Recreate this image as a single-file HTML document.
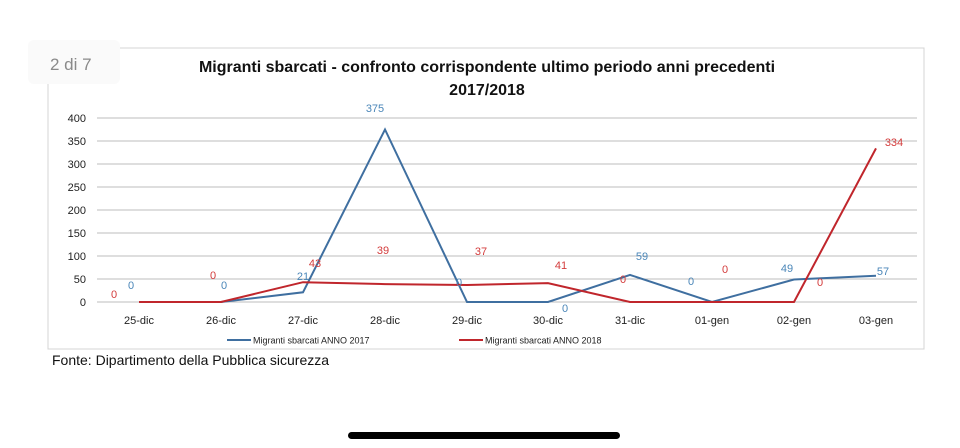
<!DOCTYPE html>
<html><head><meta charset="utf-8"><style>
html,body{margin:0;padding:0;background:#fff;width:960px;height:448px;overflow:hidden}
svg{display:block;font-family:"Liberation Sans",sans-serif}
</style></head><body>
<svg width="960" height="448" viewBox="0 0 960 448">
<rect x="48" y="48" width="876" height="301" fill="#fff" stroke="#d4d4d4" stroke-width="1"/>
<rect x="28" y="40" width="92" height="44" rx="6" fill="#fafafa"/>
<text x="50" y="70" font-size="17" fill="#8a8a8a">2 di 7</text>
<text x="487" y="72" font-size="16" font-weight="bold" text-anchor="middle" fill="#111">Migranti sbarcati - confronto corrispondente ultimo periodo anni precedenti</text>
<text x="487" y="95" font-size="16" font-weight="bold" text-anchor="middle" fill="#111">2017/2018</text>
<g stroke="#bdbdbd" stroke-width="1">
<line x1="97" x2="917" y1="302" y2="302"/><line x1="97" x2="917" y1="279" y2="279"/>
<line x1="97" x2="917" y1="256" y2="256"/><line x1="97" x2="917" y1="233" y2="233"/>
<line x1="97" x2="917" y1="210" y2="210"/><line x1="97" x2="917" y1="187" y2="187"/>
<line x1="97" x2="917" y1="164" y2="164"/><line x1="97" x2="917" y1="141" y2="141"/>
<line x1="97" x2="917" y1="118" y2="118"/>
</g>
<g font-size="11" fill="#222" text-anchor="end">
<text x="86" y="306">0</text><text x="86" y="283">50</text><text x="86" y="260">100</text>
<text x="86" y="237">150</text><text x="86" y="214">200</text><text x="86" y="191">250</text>
<text x="86" y="168">300</text><text x="86" y="145">350</text><text x="86" y="122">400</text>
</g>
<g font-size="11" fill="#222" text-anchor="middle">
<text x="139" y="324">25-dic</text><text x="221" y="324">26-dic</text><text x="303" y="324">27-dic</text>
<text x="385" y="324">28-dic</text><text x="467" y="324">29-dic</text><text x="548" y="324">30-dic</text>
<text x="630" y="324">31-dic</text><text x="712" y="324">01-gen</text><text x="794" y="324">02-gen</text>
<text x="876" y="324">03-gen</text>
</g>
<polyline fill="none" stroke="#3f6fa0" stroke-width="2" points="139,302 221,302 303,292.3 385,129.5 467,302 548,302 630,274.9 712,302 794,279.5 876,275.8"/>
<polyline fill="none" stroke="#c0262c" stroke-width="2" points="139,302 221,302 303,282.2 385,284.1 467,285 548,283.1 630,302 712,302 794,302 876,148.4"/>
<g font-size="11" fill="#4a86b8" text-anchor="middle">
<text x="131" y="289">0</text><text x="224" y="289">0</text><text x="303" y="280">21</text>
<text x="375" y="112">375</text><text x="459" y="286">0</text><text x="565" y="312">0</text>
<text x="642" y="260">59</text><text x="691" y="285">0</text><text x="787" y="272">49</text>
<text x="883" y="275">57</text>
</g>
<g font-size="11" fill="#d33b3b" text-anchor="middle">
<text x="114" y="298">0</text><text x="213" y="279">0</text><text x="315" y="267">43</text>
<text x="383" y="254">39</text><text x="481" y="255">37</text><text x="561" y="269">41</text>
<text x="623" y="283">0</text><text x="725" y="273">0</text><text x="820" y="286">0</text>
<text x="894" y="146">334</text>
</g>
<line x1="227" x2="251" y1="340" y2="340" stroke="#3f6fa0" stroke-width="2"/>
<text x="253" y="343.5" font-size="9" fill="#222">Migranti sbarcati ANNO 2017</text>
<line x1="459" x2="483" y1="340" y2="340" stroke="#c0262c" stroke-width="2"/>
<text x="485" y="343.5" font-size="9" fill="#222">Migranti sbarcati ANNO 2018</text>
<text x="52" y="365" font-size="14" fill="#111">Fonte: Dipartimento della Pubblica sicurezza</text>
<rect x="348" y="432" width="272" height="7" rx="3.5" fill="#000"/>
</svg>
</body></html>
